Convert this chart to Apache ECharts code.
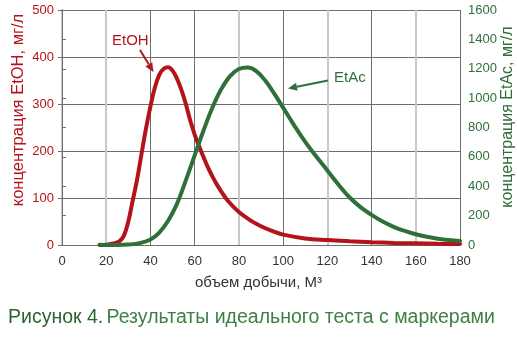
<!DOCTYPE html>
<html>
<head>
<meta charset="utf-8">
<script src="https://cdn.jsdelivr.net/npm/echarts@6/dist/echarts.min.js"></script>
<style>
  html, body { margin: 0; padding: 0; background: #ffffff; }
  #chart { width: 517px; height: 340px; }
</style>
</head>
<body>
<div id="chart"></div>
<script>
// Ethanol concentration (mg/L) against produced volume (m³)
const etohVolume = [17, 20, 22, 24, 26, 28, 30, 32, 34, 36, 38, 40, 42, 44, 46, 48, 50, 52, 54, 56, 58, 60, 62, 64, 66, 68, 70, 72, 75, 80, 85, 90, 95, 100, 110, 120, 130, 140, 150, 160, 170, 180];
const etohValues = [0, 0.5, 2, 4, 8, 20, 50, 95, 140, 195, 248, 295, 335, 362, 375, 378, 371, 354, 330, 300, 265, 235, 210, 187, 165, 146, 129, 114, 94, 70, 53, 40, 30, 22, 14, 10.5, 8, 6, 4.5, 3.5, 2.5, 2];

// Ethyl acetate concentration (mg/L) against produced volume (m³)
const etacVolume = [17, 20, 25, 30, 35, 40, 44, 48, 52, 56, 60, 64, 68, 72, 76, 80, 84, 88, 92, 96, 100, 105, 110, 115, 120, 125, 130, 135, 140, 145, 150, 155, 160, 165, 170, 175, 180];
const etacValues = [2, 0, 0, 3, 12, 38, 85, 165, 280, 440, 610, 780, 935, 1060, 1150, 1198, 1208, 1182, 1118, 1030, 935, 815, 702, 603, 508, 412, 325, 258, 205, 160, 124, 96, 73, 56, 43, 34, 28];

// Axis tick values
const xTicks = [0, 20, 40, 60, 80, 100, 120, 140, 160, 180];
const leftTicks = [0, 100, 200, 300, 400, 500];
const rightTicks = [0, 200, 400, 600, 800, 1000, 1200, 1400, 1600];

const RED = '#b3141c';
const GREEN = '#2f6f3a';
const LIGHT = '#c9c9c9';
const DARK = '#6e6e6e';
const FONT = '"Liberation Sans", Arial, sans-serif';

// Vertical grid lines alternate between a light wide stroke and a dark thin one
const lightSet = new Set([0, 20, 80, 120, 160]);
const lightColors = xTicks.map(v => lightSet.has(v) ? LIGHT : 'rgba(0,0,0,0)');
const darkColors = xTicks.map(v => lightSet.has(v) ? 'rgba(0,0,0,0)' : DARK);

const pairs = (xs, ys) => xs.map((x, i) => [x, ys[i]]);

const chart = echarts.init(document.getElementById('chart'), null, { renderer: 'canvas' });

function arrow(x1, y1, x2, y2, color) {
  const ang = Math.atan2(y2 - y1, x2 - x1);
  const len = 9, half = 4;
  const bx = x2 - len * Math.cos(ang), by = y2 - len * Math.sin(ang);
  const px = -Math.sin(ang) * half, py = Math.cos(ang) * half;
  return [
    { type: 'line', shape: { x1: x1, y1: y1, x2: bx, y2: by }, style: { stroke: color, lineWidth: 2 }, z: 100 },
    { type: 'polygon', shape: { points: [[x2, y2], [bx + px, by + py], [bx - px, by - py]] }, style: { fill: color }, z: 100 }
  ];
}

chart.setOption({
  animation: false,
  backgroundColor: '#ffffff',
  grid: { left: 62, right: 57, top: 10, bottom: 95, containLabel: false },
  xAxis: [
    {
      type: 'value', min: 0, max: 180, interval: 20,
      axisLine: { show: false },
      axisTick: { show: false },
      axisLabel: { color: '#333', fontSize: 13, fontFamily: FONT, margin: 10 },
      splitLine: { show: true, lineStyle: { color: lightColors, width: 2 } }
    },
    {
      type: 'value', min: 0, max: 180, interval: 20, position: 'bottom',
      axisLine: { show: false }, axisTick: { show: false }, axisLabel: { show: false },
      splitLine: { show: true, lineStyle: { color: darkColors, width: 1 } }
    }
  ],
  yAxis: [
    {
      type: 'value', min: 0, max: 500, interval: 100, position: 'left',
      axisLine: { show: true, lineStyle: { color: LIGHT, width: 2 } },
      axisTick: { show: true, length: 4, lineStyle: { color: DARK, width: 1 } },
      axisLabel: { color: RED, fontSize: 13, fontFamily: FONT, margin: 8 },
      splitLine: { show: true, lineStyle: { color: DARK, width: 1 } }
    },
    {
      type: 'value', min: 0, max: 1600, interval: 200, position: 'right',
      axisLine: { show: true, lineStyle: { color: DARK, width: 1 } },
      axisTick: { show: true, length: 4, lineStyle: { color: DARK, width: 1 } },
      axisLabel: { color: GREEN, fontSize: 13, fontFamily: FONT, margin: 8, formatter: v => String(v) },
      splitLine: { show: false }
    }
  ],
  series: [
    {
      name: 'EtAc', type: 'line', xAxisIndex: 0, yAxisIndex: 1,
      data: pairs(etacVolume, etacValues),
      smooth: 0.4, showSymbol: false, symbol: 'none',
      lineStyle: { color: GREEN, width: 4, cap: 'round' }, z: 3
    },
    {
      name: 'EtOH', type: 'line', xAxisIndex: 0, yAxisIndex: 0,
      data: pairs(etohVolume, etohValues),
      smooth: 0.4, showSymbol: false, symbol: 'none',
      lineStyle: { color: RED, width: 4, cap: 'round' }, z: 2
    }
  ],
  graphic: [
    {
      type: 'text', left: 'center', top: 275, z: 100,
      style: { text: 'объем добычи, М³', fill: '#333', font: '15px ' + FONT }
    },
    {
      type: 'text', x: 10, y: 110, rotation: Math.PI / 2, z: 100,
      style: { text: 'концентрация EtOH, мг/л', fill: RED, font: '16.5px ' + FONT, align: 'center', verticalAlign: 'top' }
    },
    {
      type: 'text', x: 500, y: 117, rotation: Math.PI / 2, z: 100,
      style: { text: 'концентрация EtAc, мг/л', fill: GREEN, font: '16px ' + FONT, align: 'center', verticalAlign: 'top' }
    },
    {
      type: 'text', x: 8, y: 308, z: 100,
      style: {
        text: '{b|Рисунок 4.} {n|Результаты идеального теста с маркерами}',
        rich: {
          b: { fill: '#2a6530', font: '19.5px ' + FONT },
          n: { fill: '#3f8045', font: '19.5px ' + FONT }
        }
      }
    },
    {
      type: 'text', x: 112, y: 33, z: 100,
      style: { text: 'EtOH', fill: RED, font: '15px ' + FONT }
    },
    {
      type: 'text', x: 334, y: 70, z: 100,
      style: { text: 'EtAc', fill: GREEN, font: '15px ' + FONT }
    }
  ].concat(arrow(140, 50, 153.5, 72, RED)).concat(arrow(328, 80.5, 288, 88.5, GREEN))
});
</script>
</body>
</html>
